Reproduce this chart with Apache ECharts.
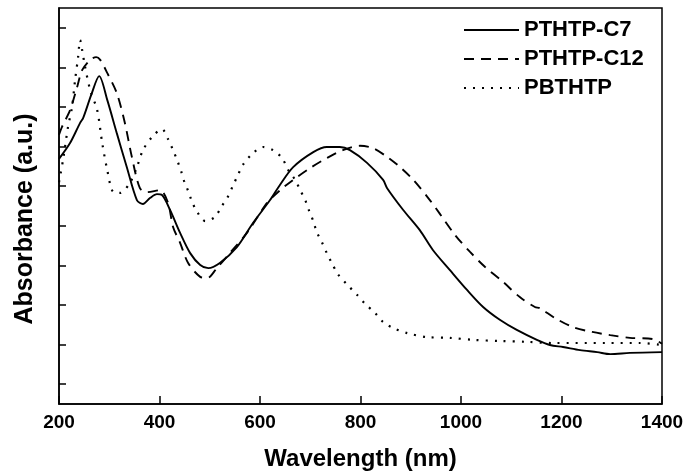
<!DOCTYPE html>
<html>
<head>
<meta charset="utf-8">
<script src="https://cdn.jsdelivr.net/npm/echarts@6/dist/echarts.min.js"></script>
<style>
  html, body { margin: 0; padding: 0; background: #fff; }
  #chart { width: 687px; height: 474px; }
</style>
</head>
<body>
<div id="chart"></div>
<script>
// values: [wavelength nm, absorbance a.u.]
var c7Data = [
    [200, 6.19], [222, 6.59], [242, 7.10], [248, 7.22], [264, 7.80], [280, 8.28],
    [296, 7.68], [315, 6.84], [335, 5.98], [355, 5.15], [367, 5.05], [381, 5.20],
    [395, 5.30], [405, 5.28], [421, 4.90], [441, 4.32], [461, 3.81], [481, 3.51],
    [497, 3.43], [520, 3.56], [554, 3.96], [586, 4.57], [620, 5.15], [638, 5.50],
    [666, 5.98], [706, 6.36], [733, 6.49], [759, 6.49], [779, 6.41], [813, 6.09],
    [845, 5.66], [853, 5.45], [885, 4.90], [918, 4.39], [944, 3.89], [978, 3.38],
    [1012, 2.88], [1044, 2.45], [1078, 2.12], [1111, 1.87], [1151, 1.62], [1177, 1.49],
    [1203, 1.44], [1237, 1.36], [1271, 1.31], [1297, 1.26], [1336, 1.29], [1400, 1.31]
];
var c12Data = [
    [200, 6.80], [206, 7.00], [222, 7.42], [236, 8.00], [246, 8.43], [262, 8.69],
    [274, 8.76], [282, 8.69], [296, 8.36], [315, 7.85], [331, 7.10], [345, 6.24],
    [361, 5.45], [375, 5.35], [401, 5.40], [417, 5.08], [427, 4.47], [441, 4.07],
    [457, 3.56], [481, 3.21], [495, 3.18], [514, 3.43], [540, 3.81], [574, 4.32],
    [600, 4.82], [614, 5.08], [640, 5.40], [666, 5.66], [700, 5.96], [733, 6.21],
    [765, 6.41], [799, 6.52], [825, 6.46], [853, 6.24], [879, 5.98], [905, 5.66],
    [938, 5.15], [958, 4.80], [988, 4.27], [1018, 3.84], [1048, 3.46], [1084, 3.08],
    [1117, 2.70], [1147, 2.45], [1157, 2.42], [1187, 2.17], [1223, 1.94], [1261, 1.82],
    [1297, 1.74], [1336, 1.67], [1382, 1.64], [1400, 1.52]
];
var pbData = [
    [200, 5.60], [208, 6.16], [218, 7.00], [226, 7.50], [232, 8.18], [238, 8.76],
    [242, 9.19], [246, 8.94], [252, 8.51], [262, 7.93], [276, 7.42], [286, 6.59],
    [296, 5.91], [308, 5.35], [321, 5.33], [341, 5.58], [355, 5.98], [367, 6.41],
    [387, 6.77], [405, 6.94], [417, 6.69], [427, 6.41], [435, 6.16], [443, 5.88],
    [449, 5.63], [457, 5.38], [465, 5.10], [475, 4.85], [491, 4.62], [510, 4.72],
    [524, 5.00], [536, 5.23], [546, 5.51], [556, 5.78], [566, 6.04], [584, 6.31],
    [606, 6.49], [626, 6.41], [644, 6.21], [656, 5.91], [670, 5.66], [680, 5.40],
    [690, 5.15], [698, 4.87], [706, 4.62], [713, 4.34], [723, 4.09], [733, 3.81],
    [743, 3.56], [755, 3.28], [773, 3.02], [793, 2.76], [809, 2.53], [829, 2.30],
    [845, 2.07], [865, 1.92], [893, 1.79], [932, 1.69], [978, 1.67], [1024, 1.62],
    [1078, 1.59], [1131, 1.57], [1183, 1.54], [1291, 1.54], [1356, 1.54], [1400, 1.49]
];
var seriesNames = ['PTHTP-C7', 'PTHTP-C12', 'PBTHTP'];
var yTicks = [0.5, 1.5, 2.5, 3.5, 4.5, 5.5, 6.5, 7.5, 8.5, 9.5];

var myChart = echarts.init(document.getElementById('chart'));
var font = 'Liberation Sans, Arial, sans-serif';

function lineSeries(name, data, type, width) {
    return {
        name: name,
        type: 'line',
        data: data,
        symbol: 'none',
        smooth: 0.3,
        lineStyle: {color: '#000', width: width, type: type},
        itemStyle: {color: '#000'}
    };
}

var option = {
    animation: false,
    backgroundColor: '#fff',
    grid: {
        left: 59, right: 25, top: 8, bottom: 70,
        containLabel: false,
        outerBoundsMode: 'none',
        show: true, borderColor: '#000', borderWidth: 1.5
    },
    legend: {
        orient: 'vertical',
        left: 458,
        top: 14,
        itemWidth: 55,
        itemHeight: 12,
        itemGap: 7,
        data: seriesNames,
        itemStyle: {opacity: 0},
        textStyle: {fontFamily: font, fontWeight: 'bold', fontSize: 22, color: '#000'}
    },
    xAxis: {
        type: 'value',
        min: 200,
        max: 1400,
        interval: 200,
        name: 'Wavelength (nm)',
        nameLocation: 'middle',
        nameGap: 43,
        nameTextStyle: {fontFamily: font, fontWeight: 'bold', fontSize: 24, color: '#000'},
        axisLine: {lineStyle: {color: '#000', width: 1.5}},
        axisTick: {inside: true, length: 8, lineStyle: {color: '#000', width: 1.5}},
        axisLabel: {
            fontFamily: font, fontWeight: 'bold', fontSize: 19, color: '#000', margin: 9,
            formatter: function (v) { return String(v); }
        },
        splitLine: {show: false}
    },
    yAxis: {
        type: 'value',
        min: 0,
        max: 10,
        name: 'Absorbance (a.u.)',
        nameLocation: 'middle',
        nameRotate: 90,
        nameGap: 21,
        nameTextStyle: {
            fontFamily: font, fontWeight: 'bold', fontSize: 25, color: '#000',
            padding: [0, 26, 0, 0]
        },
        axisLine: {show: true, lineStyle: {color: '#000', width: 1.5}},
        axisTick: {show: true, inside: true, length: 7, customValues: yTicks, lineStyle: {color: '#000', width: 1.5}},
        axisLabel: {show: false},
        splitLine: {show: false}
    },
    series: [
        lineSeries(seriesNames[0], c7Data, 'solid', 1.9),
        lineSeries(seriesNames[1], c12Data, [10, 7], 1.9),
        lineSeries(seriesNames[2], pbData, [2, 7], 2.2)
    ]
};

myChart.setOption(option);
</script>
</body>
</html>
